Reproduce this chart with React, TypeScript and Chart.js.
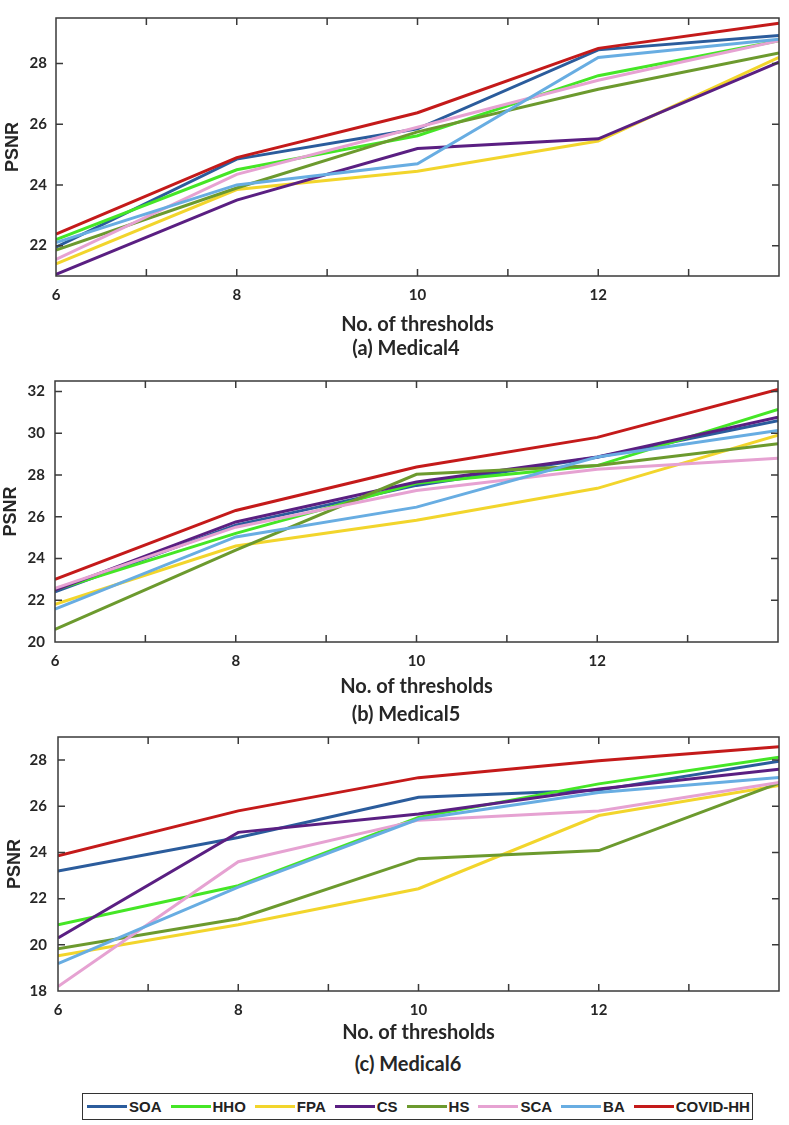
import React, { useEffect, useRef } from 'react';
import Chart from 'chart.js/auto';

// ---------- data ----------
const thresholds = [6, 8, 10, 12, 14];
const xTickValues = [6, 7, 8, 9, 10, 11, 12, 13, 14];
const xTickLabels = ['6', '', '8', '', '10', '', '12', '', ''];

const seriesNames = ['SOA', 'HHO', 'FPA', 'CS', 'HS', 'SCA', 'BA', 'COVID-HH'];
const seriesColors = ['#2b5c9c', '#45e626', '#f2d52c', '#5a1f82', '#6c9a2e', '#e6a2d2', '#68ade2', '#c41a1a'];

// rows follow seriesNames; columns follow thresholds
const medical4Values = [
  [21.95, 24.85, 25.85, 28.45, 28.92],
  [22.2, 24.5, 25.62, 27.6, 28.75],
  [21.4, 23.85, 24.45, 25.45, 28.2],
  [21.05, 23.5, 25.2, 25.52, 28.05],
  [21.85, 23.9, 25.75, 27.15, 28.35],
  [21.55, 24.35, 25.9, 27.45, 28.75],
  [22.1, 24.0, 24.7, 28.2, 28.8],
  [22.38, 24.9, 26.38, 28.5, 29.33],
];
const medical5Values = [
  [22.4, 25.6, 27.5, 28.85, 30.6],
  [22.5, 25.2, 27.6, 28.45, 31.14],
  [21.8, 24.6, 25.83, 27.36, 29.9],
  [22.48, 25.75, 27.66, 28.86, 30.77],
  [20.6, 24.4, 28.03, 28.45, 29.5],
  [22.57, 25.5, 27.26, 28.27, 28.8],
  [21.57, 25.03, 26.46, 28.86, 30.13],
  [23.0, 26.3, 28.38, 29.8, 32.1],
];
const medical6Values = [
  [23.2, 24.65, 26.39, 26.7, 27.95],
  [20.87, 22.56, 25.52, 26.97, 28.12],
  [19.53, 20.87, 22.43, 25.6, 26.9],
  [20.3, 24.87, 25.67, 26.75, 27.6],
  [19.83, 21.13, 23.73, 24.08, 27.0],
  [18.19, 23.6, 25.4, 25.8, 27.03],
  [19.19, 22.5, 25.45, 26.6, 27.25],
  [23.86, 25.8, 27.24, 27.97, 28.58],
];

const medical4YTicks = [22, 24, 26, 28];
const medical5YTicks = [20, 22, 24, 26, 28, 30, 32];
const medical6YTicks = [18, 20, 22, 24, 26, 28];

const xAxisTitle = 'No. of thresholds';
const yAxisTitle = 'PSNR';

// ---------- styling ----------
const W = 789;
const TEXT = '#262626';
const AXIS = '#3a3a3a';
const TICK_LEN = 7;
const CAPTION_FONT = 'Lato, "Open Sans", sans-serif';

const boxPlugin = {
  id: 'matlabBox',
  afterDatasetsDraw(chart: any) {
    const { ctx, chartArea: a, scales } = chart;
    const xs = scales.x;
    const ys = scales.y;
    ctx.save();
    ctx.strokeStyle = AXIS;
    ctx.lineWidth = 1.5;
    ctx.beginPath();
    xs.ticks.forEach((t: any) => {
      const px = xs.getPixelForValue(t.value);
      if (px <= a.left + 1 || px >= a.right - 1) return;
      ctx.moveTo(px, a.bottom);
      ctx.lineTo(px, a.bottom - TICK_LEN);
      ctx.moveTo(px, a.top);
      ctx.lineTo(px, a.top + TICK_LEN);
    });
    ys.ticks.forEach((t: any) => {
      const py = ys.getPixelForValue(t.value);
      if (py <= a.top + 1 || py >= a.bottom - 1) return;
      ctx.moveTo(a.left, py);
      ctx.lineTo(a.left + TICK_LEN, py);
      ctx.moveTo(a.right, py);
      ctx.lineTo(a.right - TICK_LEN, py);
    });
    ctx.stroke();
    ctx.strokeRect(a.left, a.top, a.right - a.left, a.bottom - a.top);
    ctx.restore();
  },
};

type PanelProps = {
  values: number[][];
  yTicks: number[];
  yMin: number;
  yMax: number;
  top: number;
  padTop: number;
  plotLeft: number;
  plotRight: number;
  plotBottom: number;
  xAxisH: number;
  yTickPad: number;
  yTitlePad: number;
};

function Panel(p: PanelProps) {
  const ref = useRef<HTMLCanvasElement | null>(null);
  const height = p.plotBottom + p.xAxisH - p.top;

  useEffect(() => {
    if (!ref.current) return;
    const datasets = seriesNames.map((name, i) => ({
      label: name,
      data: thresholds.map((x, j) => ({ x, y: p.values[i][j] })),
      borderColor: seriesColors[i],
      backgroundColor: seriesColors[i],
      borderWidth: 3,
      pointRadius: 0,
      tension: 0,
      order: seriesNames.length - 1 - i,
    }));
    const chart = new Chart(ref.current, {
      type: 'line',
      data: { datasets },
      plugins: [boxPlugin],
      options: {
        responsive: false,
        animation: false,
        devicePixelRatio: 1,
        layout: { padding: { top: p.padTop, right: W - p.plotRight, left: 0, bottom: 0 } },
        plugins: { legend: { display: false }, tooltip: { enabled: false } },
        scales: {
          x: {
            type: 'linear',
            min: 6,
            max: 14,
            afterBuildTicks: (s: any) => {
              s.ticks = xTickValues.map((v) => ({ value: v }));
            },
            afterFit: (s: any) => {
              s.height = p.xAxisH;
            },
            ticks: {
              autoSkip: false,
              maxRotation: 0,
              padding: 10,
              color: TEXT,
              font: { family: CAPTION_FONT, size: 15, weight: 'bold' },
              callback: (_v: any, i: number) => xTickLabels[i],
            },
            grid: { display: false, drawTicks: false },
            border: { display: false },
            title: {
              display: true,
              text: xAxisTitle,
              color: TEXT,
              padding: 0,
              font: { family: CAPTION_FONT, size: 20, weight: 'bold' },
            },
          },
          y: {
            type: 'linear',
            min: p.yMin,
            max: p.yMax,
            afterBuildTicks: (s: any) => {
              s.ticks = p.yTicks.map((v) => ({ value: v }));
            },
            afterFit: (s: any) => {
              s.width = p.plotLeft;
            },
            ticks: {
              padding: p.yTickPad,
              color: TEXT,
              font: { family: CAPTION_FONT, size: 15, weight: 'bold' },
            },
            grid: { display: false, drawTicks: false },
            border: { display: false },
            title: {
              display: true,
              text: yAxisTitle,
              color: TEXT,
              padding: { top: p.yTitlePad, bottom: 0 },
              font: { family: '"Liberation Sans", Arial, sans-serif', size: 18, weight: 'bold' },
            },
          },
        },
      } as any,
    });
    return () => chart.destroy();
  }, []);

  return (
    <canvas
      ref={ref}
      width={W}
      height={height}
      style={{ position: 'absolute', left: 0, top: p.top, width: W, height, display: 'block' }}
    />
  );
}

function Caption({ text, cx, cy }: { text: string; cx: number; cy: number }) {
  return (
    <div
      style={{
        position: 'absolute',
        left: cx - 150,
        top: cy - 12,
        width: 300,
        height: 24,
        lineHeight: '24px',
        textAlign: 'center',
        fontFamily: CAPTION_FONT,
        fontWeight: 700,
        fontSize: 20,
        color: TEXT,
      }}
    >
      {text}
    </div>
  );
}

function Legend() {
  return (
    <div
      style={{
        position: 'absolute',
        left: 82,
        top: 1093,
        width: 671,
        height: 27,
        boxSizing: 'border-box',
        border: '1.5px solid #333',
        display: 'flex',
        alignItems: 'center',
        paddingLeft: 4,
        gap: 9,
        background: '#fff',
      }}
    >
      {seriesNames.map((name, i) => (
        <div key={name} style={{ display: 'flex', alignItems: 'center', gap: 2 }}>
          <span style={{ display: 'inline-block', width: 40, height: 3, background: seriesColors[i] }} />
          <span
            style={{
              fontFamily: '"Liberation Sans", Arial, sans-serif',
              fontWeight: 700,
              fontSize: 15,
              color: '#222',
              lineHeight: '18px',
            }}
          >
            {name}
          </span>
        </div>
      ))}
    </div>
  );
}

export default function App() {
  return (
    <div style={{ position: 'absolute', left: 0, top: 0, width: W, height: 1125, background: '#fff', overflow: 'hidden' }}>
      <Panel
        values={medical4Values}
        yTicks={medical4YTicks}
        yMin={21}
        yMax={29.5}
        top={0}
        padTop={7}
        plotLeft={56}
        plotRight={781}
        plotBottom={276}
        xAxisH={61}
        yTickPad={9}
        yTitlePad={2}
      />
      <Panel
        values={medical5Values}
        yTicks={medical5YTicks}
        yMin={20}
        yMax={32.5}
        top={350}
        padTop={31}
        plotLeft={55}
        plotRight={778}
        plotBottom={642}
        xAxisH={57}
        yTickPad={10}
        yTitlePad={0}
      />
      <Panel
        values={medical6Values}
        yTicks={medical6YTicks}
        yMin={18}
        yMax={29}
        top={710}
        padTop={27}
        plotLeft={58}
        plotRight={782}
        plotBottom={991}
        xAxisH={54}
        yTickPad={11}
        yTitlePad={4}
      />
      <Caption text="(a) Medical4" cx={406} cy={347} />
      <Caption text="(b) Medical5" cx={406} cy={713} />
      <Caption text="(c) Medical6" cx={408} cy={1063} />
      <Legend />
    </div>
  );
}
